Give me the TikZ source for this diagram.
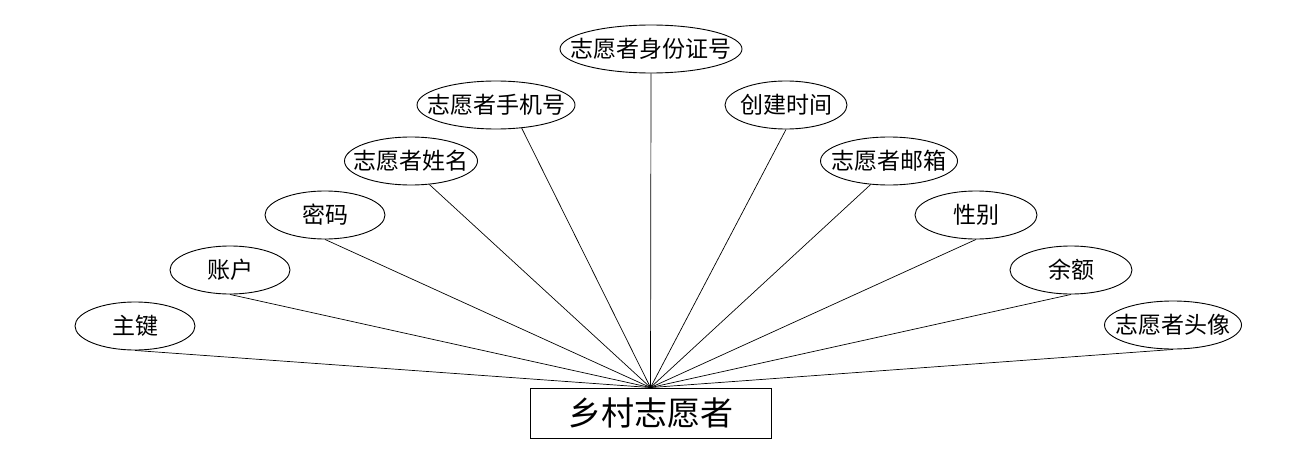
\documentclass[tikz,border=0pt]{standalone}
\usepackage{fontspec}
\newfontfamily\cjk{Noto Sans CJK SC}
\usetikzlibrary{shapes.geometric}
\newcommand{\zw}[1]{\makebox[0pt]{#1}}
\begin{document}
\begin{tikzpicture}[x=1pt,y=-1pt,
  attr/.style={ellipse,draw,line width=0.9pt,inner sep=0pt,minimum height=48pt,font=\cjk\fontsize{23}{26}\selectfont},
  ent/.style={rectangle,draw,line width=0.9pt,inner sep=0pt,minimum width=241pt,minimum height=50pt,font=\cjk\fontsize{33}{36}\selectfont},
  link/.style={line width=0.7pt}]
\useasboundingbox (0,0) rectangle (1300,468);
\node[ent] (e) at (650.5,413) {\zw{乡村志愿者}};
\node[attr,minimum width=120pt] (a1) at (135,326) {\zw{主键}};
\node[attr,minimum width=120pt] (a2) at (230,270) {\zw{账户}};
\node[attr,minimum width=120pt] (a3) at (325,215) {\zw{密码}};
\node[attr,minimum width=133pt] (a4) at (411,161) {\zw{志愿者姓名}};
\node[attr,minimum width=158pt] (a5) at (496,105) {\zw{志愿者手机号}};
\node[attr,minimum width=182pt] (a6) at (651,49) {\zw{志愿者身份证号}};
\node[attr,minimum width=122pt] (a7) at (786,105) {\zw{创建时间}};
\node[attr,minimum width=137pt] (a8) at (889,161) {\zw{志愿者邮箱}};
\node[attr,minimum width=122pt] (a9) at (976,215) {\zw{性别}};
\node[attr,minimum width=122pt] (a10) at (1071,270) {\zw{余额}};
\node[attr,minimum width=137pt] (a11) at (1173,325) {\zw{志愿者头像}};
\coordinate (hub) at (e.north);
\draw[link] (a1.south) -- (hub);
\draw[link] (a2.south) -- (hub);
\draw[link] (a3.south) -- (hub);
\draw[link] (a4.-52) -- (hub);
\draw[link] (a5.-42) -- (hub);
\draw[link] (a6.south) -- (hub);
\draw[link] (a7.south) -- (hub);
\draw[link] (a8.-128) -- (hub);
\draw[link] (a9.south) -- (hub);
\draw[link] (a10.south) -- (hub);
\draw[link] (a11.south) -- (hub);
\end{tikzpicture}
\end{document}
